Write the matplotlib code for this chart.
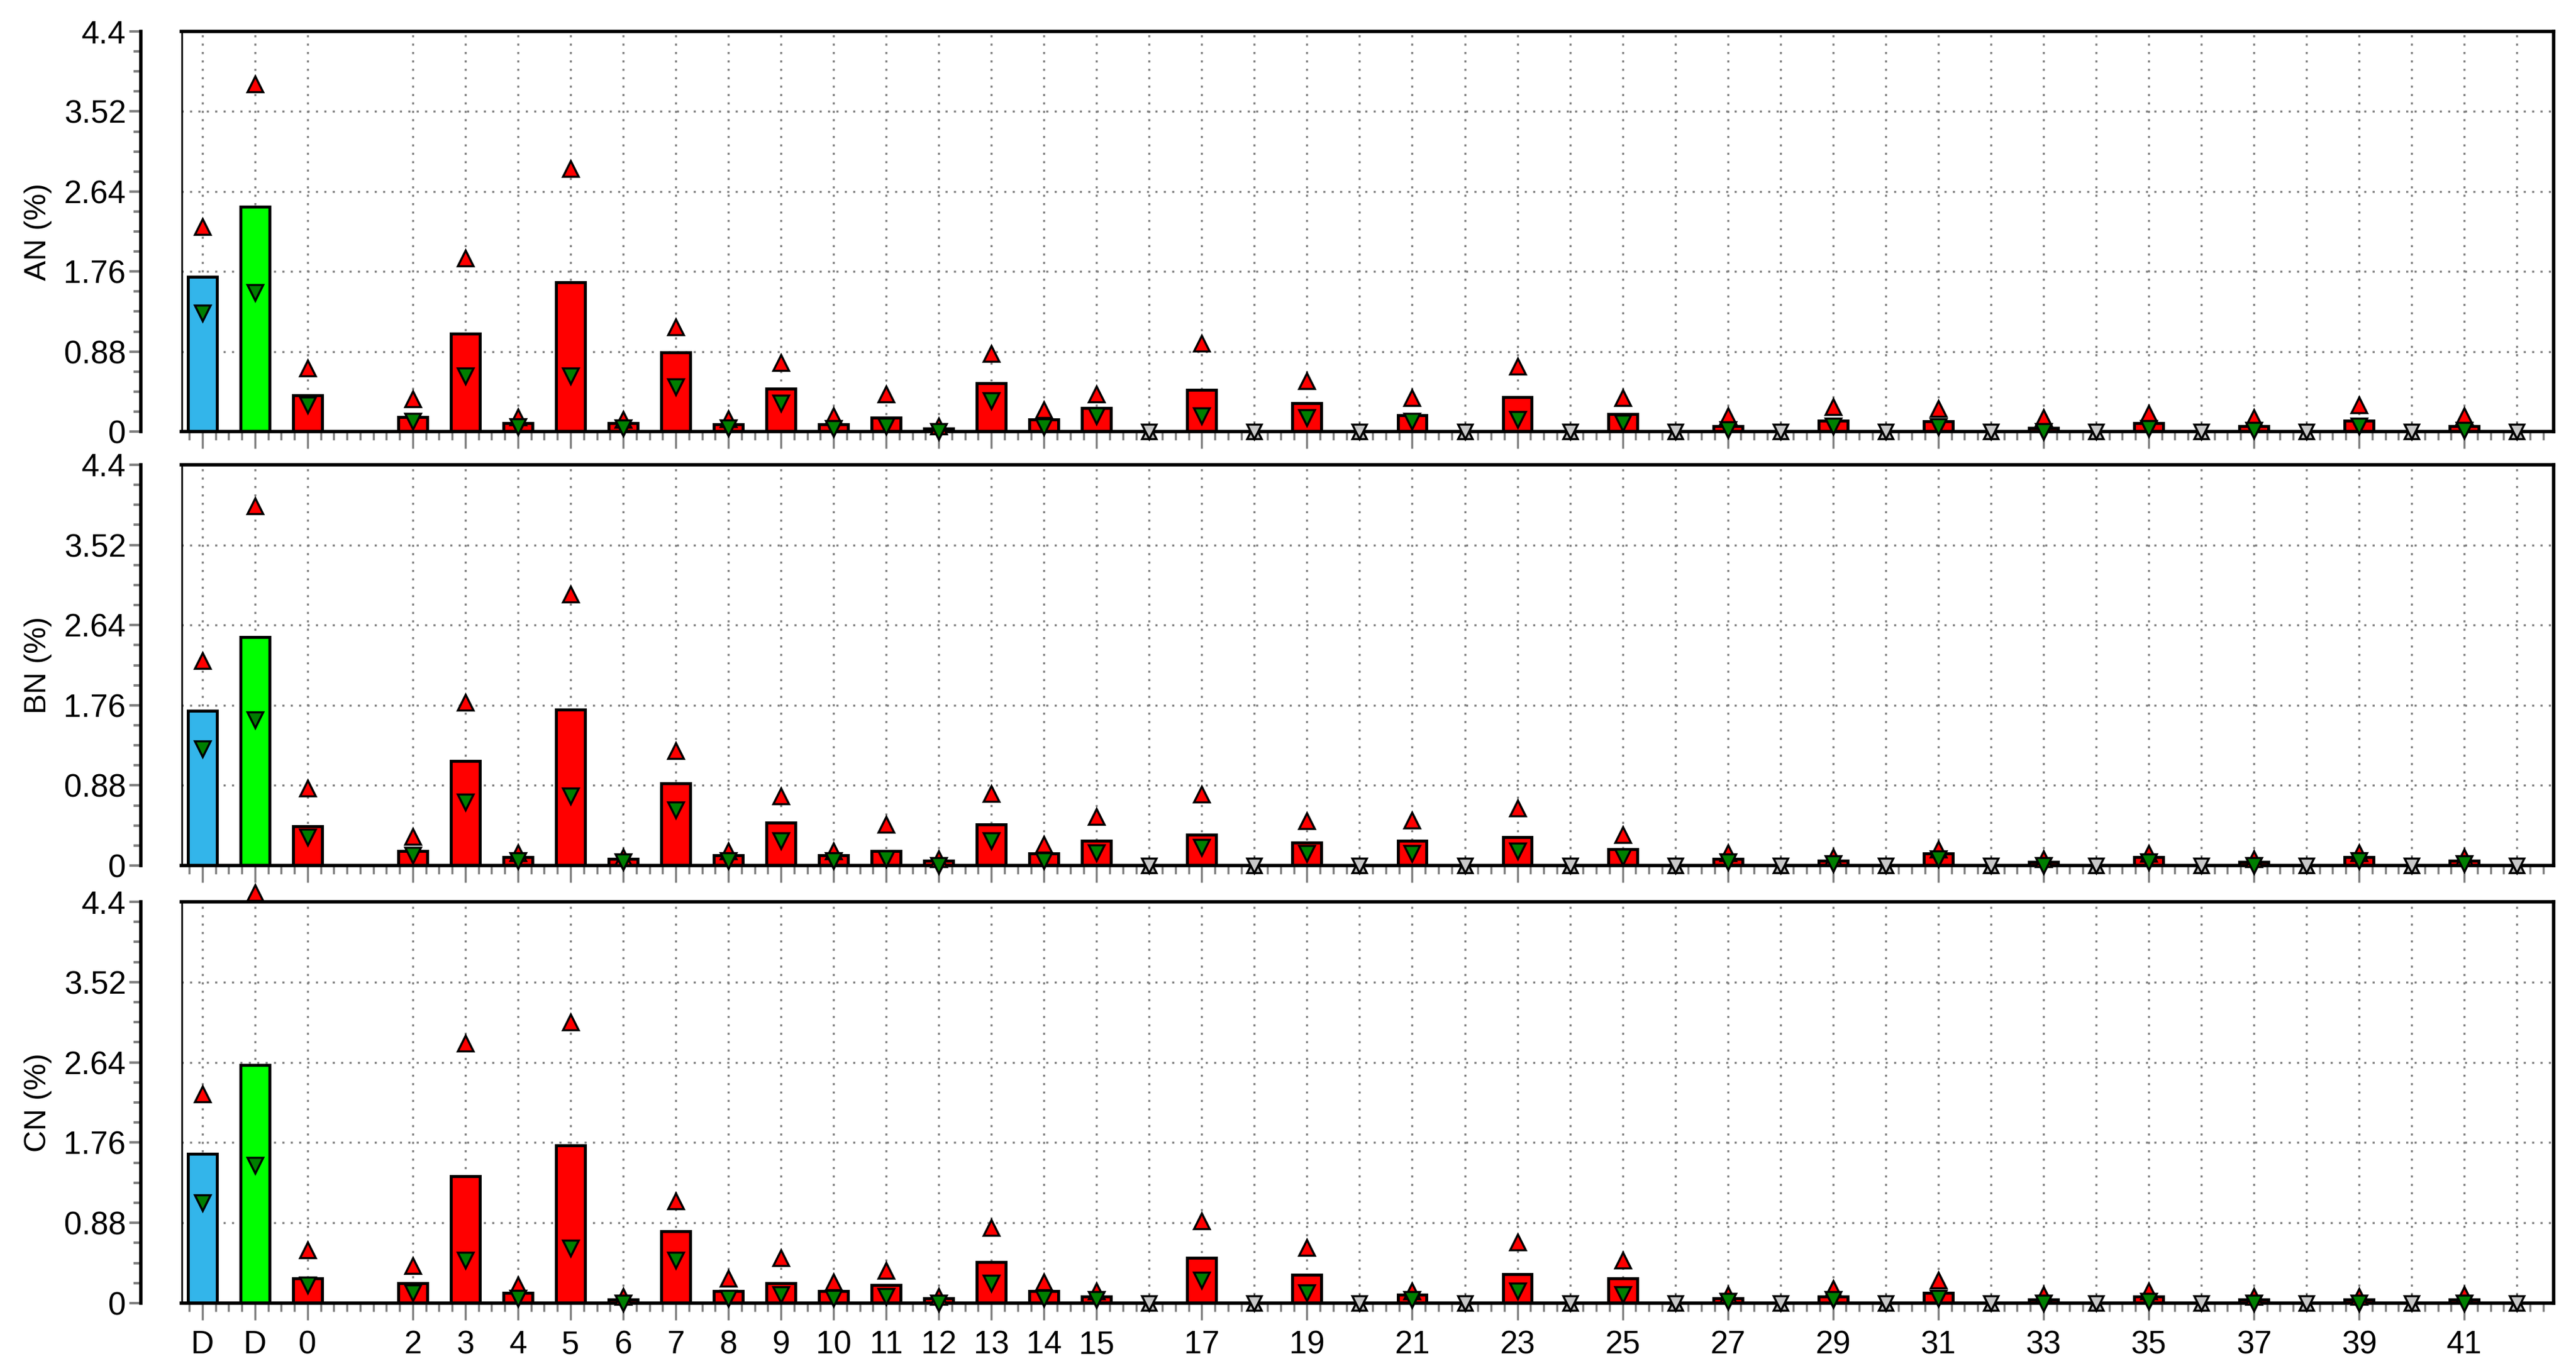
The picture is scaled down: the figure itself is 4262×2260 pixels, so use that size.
import matplotlib
matplotlib.use("Agg")
import matplotlib.pyplot as plt
import numpy as np
from matplotlib.ticker import MultipleLocator, FixedLocator

plt.rcParams['font.family'] = ['Liberation Sans', 'DejaVu Sans']

# category positions: two "D" reference bars, then numbered stations 0..41
num_positions = [0, 2, 3, 4, 5, 6, 7, 8, 9, 10, 11, 12, 13, 14, 15, 17, 19, 21, 23, 25,
                 27, 29, 31, 33, 35, 37, 39, 41]
empty_positions = [16, 18, 20, 22, 24, 26, 28, 30, 32, 34, 36, 38, 40, 42]
tick_labels = ["D", "D"] + [str(p) for p in num_positions]

panel_names = ["AN (%)", "BN (%)", "CN (%)"]

# values: [D blue, D green, then num_positions]
AN_bar  = [1.70, 2.47, 0.40, 0.16, 1.08, 0.09, 1.64, 0.09, 0.87, 0.08, 0.47, 0.08, 0.15, 0.03, 0.53, 0.13, 0.26, 0.46, 0.31, 0.18, 0.38, 0.19, 0.06, 0.12, 0.11, 0.04, 0.09, 0.06, 0.12, 0.06]
AN_up   = [2.25, 3.82, 0.70, 0.36, 1.91, 0.16, 2.89, 0.13, 1.15, 0.14, 0.76, 0.17, 0.41, 0.06, 0.86, 0.24, 0.41, 0.97, 0.56, 0.37, 0.72, 0.37, 0.17, 0.27, 0.25, 0.15, 0.20, 0.15, 0.29, 0.17]
AN_down = [1.30, 1.53, 0.29, 0.11, 0.61, 0.05, 0.61, 0.04, 0.49, 0.04, 0.31, 0.03, 0.06, 0.00, 0.34, 0.05, 0.17, 0.17, 0.15, 0.11, 0.13, 0.09, 0.02, 0.06, 0.05, 0.00, 0.03, 0.01, 0.06, 0.01]

BN_bar  = [1.70, 2.51, 0.43, 0.16, 1.15, 0.09, 1.71, 0.07, 0.90, 0.11, 0.47, 0.11, 0.16, 0.05, 0.45, 0.13, 0.27, 0.34, 0.25, 0.27, 0.31, 0.18, 0.07, 0.05, 0.13, 0.04, 0.09, 0.04, 0.09, 0.05]
BN_up   = [2.25, 3.95, 0.85, 0.32, 1.79, 0.14, 2.98, 0.09, 1.26, 0.16, 0.76, 0.16, 0.45, 0.07, 0.79, 0.23, 0.54, 0.78, 0.49, 0.50, 0.63, 0.34, 0.14, 0.09, 0.18, 0.07, 0.13, 0.07, 0.14, 0.09]
BN_down = [1.28, 1.60, 0.31, 0.11, 0.70, 0.05, 0.76, 0.04, 0.61, 0.05, 0.27, 0.05, 0.07, 0.00, 0.27, 0.05, 0.14, 0.20, 0.13, 0.13, 0.16, 0.09, 0.04, 0.02, 0.07, 0.00, 0.04, 0.00, 0.05, 0.02]

CN_bar  = [1.64, 2.61, 0.27, 0.22, 1.39, 0.11, 1.73, 0.04, 0.79, 0.13, 0.22, 0.13, 0.20, 0.05, 0.45, 0.13, 0.07, 0.50, 0.31, 0.09, 0.32, 0.27, 0.05, 0.07, 0.11, 0.04, 0.07, 0.04, 0.04, 0.04]
CN_up   = [2.29, 4.50, 0.58, 0.41, 2.85, 0.20, 3.08, 0.07, 1.12, 0.27, 0.50, 0.23, 0.36, 0.07, 0.83, 0.23, 0.13, 0.90, 0.61, 0.13, 0.67, 0.47, 0.09, 0.16, 0.25, 0.09, 0.13, 0.07, 0.07, 0.09]
CN_down = [1.10, 1.51, 0.20, 0.11, 0.47, 0.05, 0.60, 0.00, 0.47, 0.05, 0.09, 0.05, 0.07, 0.00, 0.22, 0.05, 0.04, 0.25, 0.11, 0.04, 0.13, 0.09, 0.02, 0.04, 0.05, 0.00, 0.02, 0.00, 0.00, 0.00]

panels = [(AN_bar, AN_up, AN_down), (BN_bar, BN_up, BN_down), (CN_bar, CN_up, CN_down)]

positions = [-2, -1] + num_positions
bar_colors = ["#33b5ea", "#00ff00"] + ["#ff0000"] * len(num_positions)

W, H = 4262, 2260
fig = plt.figure(figsize=(W / 100, H / 100), dpi=100)
left, right = 300 / W, 4225 / W
boxes = [(52, 714), (769, 1432), (1492, 2156)]
gray = "#808080"

for i, ((bars, ups, downs), name) in enumerate(zip(panels, panel_names)):
    top, bot = boxes[i]
    ax = fig.add_axes([left, 1 - bot / H, right - left, (bot - top) / H])
    ax.set_xlim(-2.4, 42.7)
    ax.set_ylim(0, 4.4)
    # grid
    for y in [0.88, 1.76, 2.64, 3.52]:
        ax.axhline(y, color=gray, lw=2.5, ls=(0, (1, 3)), zorder=0)
    for x in positions + empty_positions:
        ax.axvline(x, color=gray, lw=2.5, ls=(0, (1, 3)), zorder=0)
    ax.bar(positions, bars, width=0.55, color=bar_colors, edgecolor="black", lw=3.5, zorder=2)
    ax.plot(positions, ups, ls="none", marker="^", ms=19, mfc="#ff0000", mec="black", mew=2.5,
            zorder=3, clip_on=False)
    ax.plot(positions, downs, ls="none", marker="v", ms=19, mfc="#007f00", mec="black", mew=2.5,
            zorder=4, clip_on=False)
    ax.plot(empty_positions, [0] * len(empty_positions), ls="none", marker="^", ms=17,
            mfc="#c8c8c8", mec="black", mew=2.5, zorder=3, clip_on=False)
    ax.plot(empty_positions, [0] * len(empty_positions), ls="none", marker="v", ms=17,
            mfc="#c8c8c8", mec="black", mew=2.5, zorder=3, clip_on=False)

    for s in ax.spines.values():
        s.set_linewidth(4)
    ax.spines['left'].set_position(('outward', 48))
    ax.axvline(-2.4, color="black", lw=4, zorder=5)
    ax.yaxis.set_major_locator(FixedLocator([0, 0.88, 1.76, 2.64, 3.52, 4.4]))
    ax.set_yticklabels(["0", "0.88", "1.76", "2.64", "3.52", "4.4"])
    ax.yaxis.set_minor_locator(MultipleLocator(0.22))
    ax.tick_params(axis='y', which='major', length=14, width=3, color=gray, labelsize=38, pad=4)
    ax.tick_params(axis='y', which='minor', length=9, width=3, color=gray)
    ax.set_ylabel(name, fontsize=36, labelpad=14)

    ax.set_xticks(positions)
    ax.xaxis.set_minor_locator(MultipleLocator(0.25))
    ax.tick_params(axis='x', which='major', length=20, width=2.5, color=gray, labelsize=38, pad=12)
    ax.tick_params(axis='x', which='minor', length=10, width=2.5, color=gray)
    if i == 2:
        ax.set_xticklabels(tick_labels)
    else:
        ax.set_xticklabels([])

fig.savefig("out.png", dpi=100)
